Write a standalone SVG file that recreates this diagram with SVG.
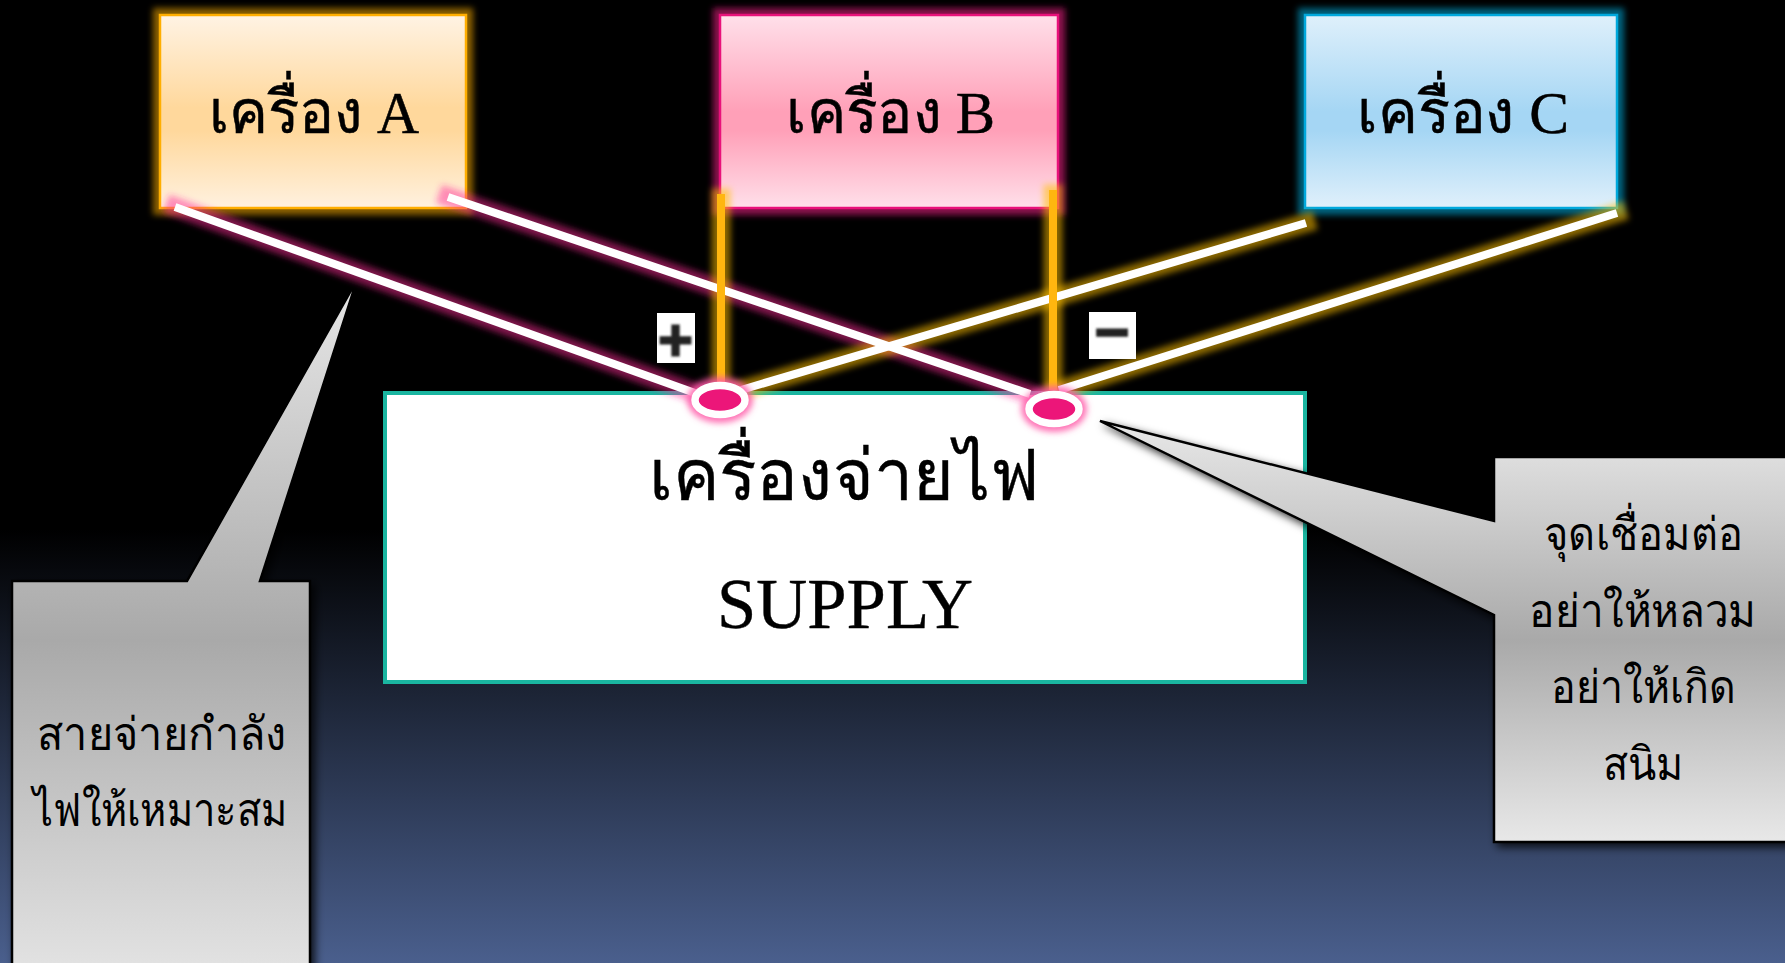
<svg xmlns="http://www.w3.org/2000/svg" width="1785" height="963" viewBox="0 0 1785 963">
  <style>
    text { font-family: "Liberation Serif", "Noto Sans", serif; fill: #000; text-anchor: middle; }
    .t60 { font-size: 60px; stroke: #000; stroke-width: .5px; }
    .t69 { font-size: 71px; stroke: #000; stroke-width: .4px; }
    .t48 { font-size: 46px; }
    .sign { font-family: "DejaVu Sans", sans-serif; font-weight: 700; font-size: 46px; fill: #222; stroke: #222; stroke-width: 3px; filter: url(#blurT); }
    .wire { stroke: #fff; stroke-width: 8; fill: none; }
    .glowP { stroke: #ff2a96; stroke-opacity: .5; stroke-width: 19; stroke-linecap: square; fill: none; filter: url(#softL); }
    .glowO { stroke: #ffc000; stroke-opacity: .55; stroke-width: 19; stroke-linecap: square; fill: none; filter: url(#softL); }
    .post { stroke: #ffb60f; stroke-width: 8; fill: none; }
    .callout { stroke: #000; stroke-width: 2.5; filter: url(#shadow); }
    .term { fill: #ec1679; stroke: #fff; stroke-width: 7.5; }
    .termG { fill: #ff5aa8; fill-opacity: .85; filter: url(#softL); }
    .halo { fill: none; stroke-opacity: .55; stroke-width: 14; filter: url(#softL); }
  </style>
  <defs>
    <linearGradient id="bg" x1="0" y1="0" x2="0" y2="1">
      <stop offset="0" stop-color="#000"/><stop offset=".55" stop-color="#000"/><stop offset="1" stop-color="#4a5f8d"/>
    </linearGradient>
    <linearGradient id="gA" x1="0" y1="0" x2="0" y2="1">
      <stop offset="0" stop-color="#fff3e4"/><stop offset=".48" stop-color="#ffd89c"/><stop offset=".6" stop-color="#ffd89c"/><stop offset="1" stop-color="#fff1df"/>
    </linearGradient>
    <linearGradient id="gB" x1="0" y1="0" x2="0" y2="1">
      <stop offset="0" stop-color="#ffe0ea"/><stop offset=".5" stop-color="#ffa0b8"/><stop offset=".6" stop-color="#ffa0b8"/><stop offset="1" stop-color="#ffe0ea"/>
    </linearGradient>
    <linearGradient id="gC" x1="0" y1="0" x2="0" y2="1">
      <stop offset="0" stop-color="#dff0fb"/><stop offset=".5" stop-color="#a5d6f4"/><stop offset=".6" stop-color="#a5d6f4"/><stop offset="1" stop-color="#e0f0fb"/>
    </linearGradient>
    <linearGradient id="gL" gradientUnits="userSpaceOnUse" x1="0" y1="278" x2="0" y2="1002">
      <stop offset="0" stop-color="#e8e8e8"/><stop offset=".5" stop-color="#a9a9a9"/><stop offset="1" stop-color="#e8e8e8"/>
    </linearGradient>
    <linearGradient id="gR" gradientUnits="userSpaceOnUse" x1="0" y1="421" x2="0" y2="842">
      <stop offset="0" stop-color="#e8e8e8"/><stop offset=".52" stop-color="#a9a9a9"/><stop offset="1" stop-color="#e8e8e8"/>
    </linearGradient>
    <filter id="softL" filterUnits="userSpaceOnUse" x="0" y="0" width="1785" height="963">
      <feGaussianBlur stdDeviation="3"/>
    </filter>
    <filter id="shadow" filterUnits="userSpaceOnUse" x="0" y="0" width="1785" height="963">
      <feDropShadow dx="4" dy="4" stdDeviation="4" flood-color="#000" flood-opacity=".8"/>
    </filter>
    <filter id="blurT" x="-20%" y="-20%" width="140%" height="140%">
      <feGaussianBlur stdDeviation=".8"/>
    </filter>
  </defs>

  <rect id="background" width="1785" height="963" fill="url(#bg)"/>

  <g id="machine-a">
    <rect class="halo" x="160" y="15" width="306" height="193" stroke="#ffb000"/>
    <rect x="160" y="15" width="306" height="193" fill="url(#gA)" stroke="#ffae00" stroke-width="2.5"/>
    <text class="t60" x="314" y="133" textLength="210" lengthAdjust="spacingAndGlyphs">เครื่อง A</text>
  </g>
  <g id="machine-b">
    <rect class="halo" x="720" y="15" width="338" height="193" stroke="#ff1e8c"/>
    <rect x="720" y="15" width="338" height="193" fill="url(#gB)" stroke="#e8117a" stroke-width="2.5"/>
    <text class="t60" x="890.5" y="133" textLength="209" lengthAdjust="spacingAndGlyphs">เครื่อง B</text>
  </g>
  <g id="machine-c">
    <rect class="halo" x="1305" y="15" width="312" height="193" stroke="#00b4e6"/>
    <rect x="1305" y="15" width="312" height="193" fill="url(#gC)" stroke="#00a8dc" stroke-width="2.5"/>
    <text class="t60" x="1463" y="133" textLength="212" lengthAdjust="spacingAndGlyphs">เครื่อง C</text>
  </g>
  <g id="supply">
    <rect x="385" y="393" width="920" height="289" fill="#fff" stroke="#1ab5a0" stroke-width="4"/>
    <text class="t69" x="844" y="500" textLength="390" lengthAdjust="spacingAndGlyphs">เครื่องจ่ายไฟ</text>
    <text class="t69" x="845" y="628" textLength="256" lengthAdjust="spacingAndGlyphs">SUPPLY</text>
  </g>
  <g id="callout-wire">
    <path class="callout" d="M12,581 H187 L357,280 L260,581 H310 V1002 H12 Z" fill="url(#gL)"/>
    <text class="t48" x="161.5" y="750" textLength="249" lengthAdjust="spacingAndGlyphs">สายจ่ายกำลัง</text>
    <text class="t48" x="160" y="826" textLength="254" lengthAdjust="spacingAndGlyphs">ไฟให้เหมาะสม</text>
  </g>
  <g id="callout-joint">
    <path class="callout" d="M1100,421 L1494,521 V457 H1800 V842 H1494 V615 Z" fill="url(#gR)"/>
    <text class="t48" x="1643.5" y="550" textLength="199" lengthAdjust="spacingAndGlyphs">จุดเชื่อมต่อ</text>
    <text class="t48" x="1642.5" y="627" textLength="227" lengthAdjust="spacingAndGlyphs">อย่าให้หลวม</text>
    <text class="t48" x="1643.5" y="703" textLength="185" lengthAdjust="spacingAndGlyphs">อย่าให้เกิด</text>
    <text class="t48" x="1643" y="780" textLength="80" lengthAdjust="spacingAndGlyphs">สนิม</text>
  </g>

  <g id="connectors">
    <path class="glowP" d="M175,207 L695,393"/>
    <path class="glowP" d="M448,197 L1030,394"/>
    <path class="glowO" d="M1306,223 L741,390"/>
    <path class="glowO" d="M1617,213 L1059,390"/>
    <path class="glowO" d="M721,198 V390"/>
    <path class="glowO" d="M1053,194 V390"/>
    <path class="wire" d="M175,207 L695,393"/>
    <path class="wire" d="M448,197 L1030,394"/>
    <path class="wire" d="M1306,223 L741,390"/>
    <path class="wire" d="M1617,213 L1059,390"/>
    <path class="post" d="M721,194 V390"/>
    <path class="post" d="M1053,190 V390"/>
  </g>

  <g id="terminal-plus">
    <ellipse class="termG" cx="720" cy="400" rx="33" ry="23"/>
    <ellipse class="term" cx="720" cy="400" rx="25" ry="14.5"/>
  </g>
  <g id="terminal-minus">
    <ellipse class="termG" cx="1054" cy="409" rx="33" ry="23"/>
    <ellipse class="term" cx="1054" cy="409" rx="25" ry="14.5"/>
  </g>

  <g id="sign-plus">
    <rect x="657" y="313" width="38" height="50" fill="#fff"/>
    <text class="sign" x="675.5" y="355">+</text>
  </g>
  <g id="sign-minus">
    <rect x="1089" y="312" width="47" height="47" fill="#fff"/>
    <text class="sign" x="1112" y="347">−</text>
  </g>
</svg>
